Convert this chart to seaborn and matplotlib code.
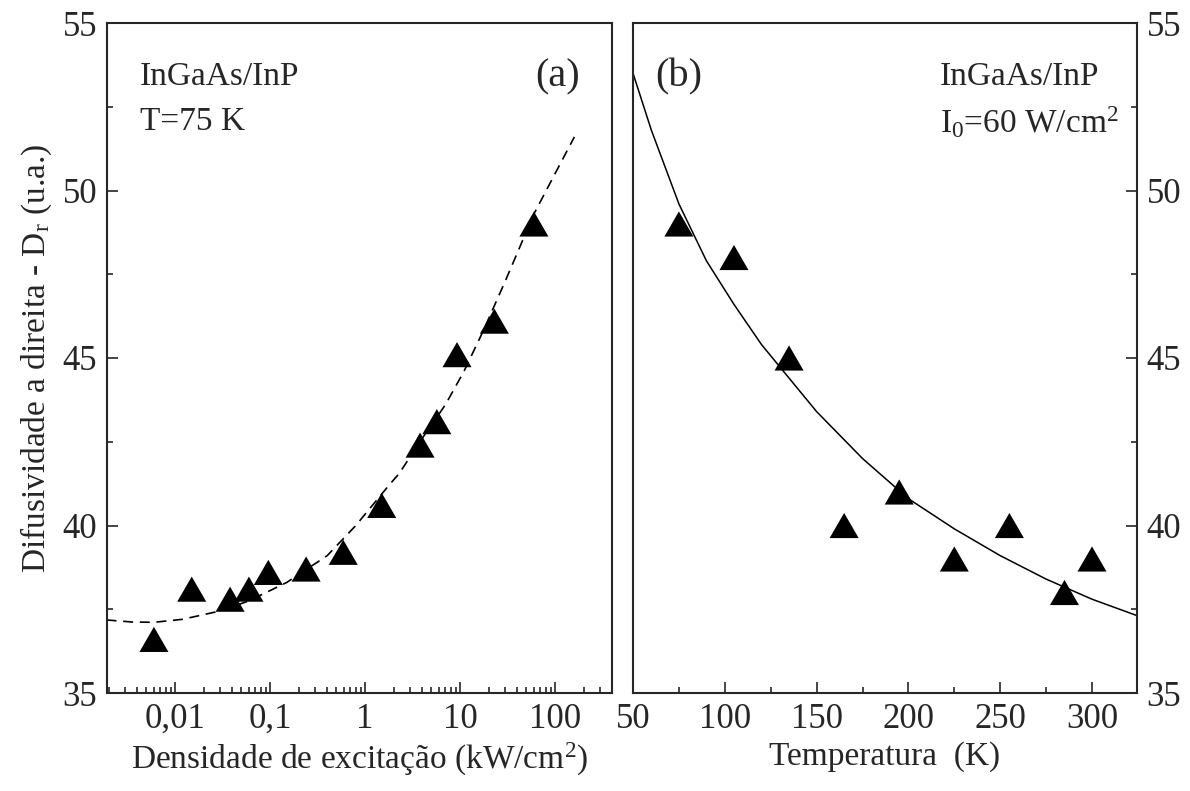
import numpy as np
import pandas as pd
import matplotlib
matplotlib.use("Agg")
import matplotlib.pyplot as plt
import seaborn as sns
from matplotlib.ticker import FixedLocator, FuncFormatter, MultipleLocator, NullFormatter

# (a) Dr vs excitation density (kW/cm2), T = 75 K
dens = [0.006, 0.015, 0.038, 0.060, 0.096, 0.24, 0.59, 1.5, 3.8, 5.7, 9.3, 23, 60]
dr_dens = [36.6, 38.1, 37.8, 38.1, 38.6, 38.7, 39.2, 40.6, 42.4, 43.1, 45.1, 46.1, 49.0]
# dashed fit curve
fit_dens = [0.0019, 0.0035, 0.006, 0.012, 0.03, 0.06, 0.15, 0.4, 0.8, 1.75, 2.3,
            4, 7, 11, 17.5, 30, 60, 100, 160]
fit_dr_dens = [37.18, 37.12, 37.11, 37.2, 37.45, 37.75, 38.3, 39.1, 40.0, 41.17, 41.56,
               42.6, 43.6, 44.6, 45.8, 47.3, 49.3, 50.5, 51.6]

# (b) Dr vs temperature (K), I0 = 60 W/cm2
temp = [75, 105, 135, 165, 195, 225, 255, 285, 300]
dr_temp = [49, 48, 45, 40, 41, 39, 40, 38, 39]
fit_temp = [50, 60, 75, 90, 105, 120, 135, 150, 175, 200, 225, 250, 275, 300, 325]
fit_dr_temp = [53.5, 51.8, 49.6, 47.9, 46.6, 45.4, 44.4, 43.4, 42.0, 40.8, 39.9,
               39.1, 38.4, 37.8, 37.3]

df_a = pd.DataFrame({"x": dens, "y": dr_dens})
df_b = pd.DataFrame({"x": temp, "y": dr_temp})

sns.set_style("ticks")
plt.rcParams["font.family"] = ["Liberation Serif", "DejaVu Serif"]
plt.rcParams["mathtext.fontset"] = "custom"
plt.rcParams["mathtext.rm"] = "Liberation Serif"
plt.rcParams["mathtext.it"] = "Liberation Serif:italic"
plt.rcParams["axes.linewidth"] = 1.5

fig = plt.figure(figsize=(11.9, 7.91), dpi=100)
ax1 = fig.add_axes([107 / 1190, 1 - 693 / 791, 505 / 1190, 670 / 791])
ax2 = fig.add_axes([633 / 1190, 1 - 693 / 791, 504 / 1190, 670 / 791])

tri = [(-1, -0.866), (1, -0.866), (0, 0.866)]
tick_fs = 25
lab_fs = 24

# panel (a)
ax1.set_xscale("log")
sns.lineplot(x=fit_dens, y=fit_dr_dens, ax=ax1, color="black", lw=1.2,
             linestyle=(0, (6, 4)), sort=False, estimator=None)
sns.scatterplot(data=df_a, x="x", y="y", ax=ax1, marker=tri, s=29 ** 2 * 0.52,
                color="black", edgecolor="none", zorder=3)
ax1.set_xlim(10 ** -2.716, 10 ** 2.6)
ax1.set_ylim(35, 55)
ax1.xaxis.set_major_locator(FixedLocator([0.01, 0.1, 1, 10, 100]))
ax1.xaxis.set_major_formatter(FuncFormatter(lambda v, p: ("%g" % v).replace(".", ",")))
minors = [m * 10.0 ** e for e in range(-3, 3) for m in range(2, 10)]
ax1.xaxis.set_minor_locator(FixedLocator(minors))
ax1.xaxis.set_minor_formatter(NullFormatter())
ax1.yaxis.set_major_locator(MultipleLocator(5))
ax1.yaxis.set_minor_locator(MultipleLocator(2.5))
ax1.tick_params(which="both", direction="in", top=False, right=False,
                labelsize=tick_fs, width=1.2, pad=7)
ax1.tick_params(which="major", length=8)
ax1.tick_params(which="minor", length=4.5)
ax1.set_xlabel("Densidade de excitação (kW/cm$^2$)", fontsize=lab_fs, labelpad=4)
ax1.set_ylabel("Difusividade a direita - D$_\\mathrm{r}$ (u.a.)", fontsize=lab_fs, labelpad=6)
ax1.text(0.065, 0.92, "InGaAs/InP", transform=ax1.transAxes, fontsize=24, va="center")
ax1.text(0.065, 0.852, "T=75 K", transform=ax1.transAxes, fontsize=24, va="center")
ax1.text(0.937, 0.92, "(a)", transform=ax1.transAxes, fontsize=29, va="center", ha="right")

# panel (b)
sns.lineplot(x=fit_temp, y=fit_dr_temp, ax=ax2, color="black", lw=1.1,
             sort=False, estimator=None)
sns.scatterplot(data=df_b, x="x", y="y", ax=ax2, marker=tri, s=29 ** 2 * 0.52,
                color="black", edgecolor="none", zorder=3)
ax2.set_xlim(50, 324.5)
ax2.set_ylim(35, 55)
ax2.xaxis.set_major_locator(MultipleLocator(50))
ax2.xaxis.set_minor_locator(MultipleLocator(25))
ax2.yaxis.set_major_locator(MultipleLocator(5))
ax2.yaxis.set_minor_locator(MultipleLocator(2.5))
ax2.yaxis.tick_right()
ax2.tick_params(which="both", direction="in", top=False, left=False, right=True,
                labelleft=False, labelright=True, labelsize=tick_fs, width=1.2, pad=7)
ax2.tick_params(which="major", length=8)
ax2.tick_params(which="minor", length=4.5)
ax2.set_xlabel("Temperatura  (K)", fontsize=lab_fs, labelpad=4)
ax2.set_ylabel("")
ax2.text(0.044, 0.92, "(b)", transform=ax2.transAxes, fontsize=29, va="center")
ax2.text(0.609, 0.92, "InGaAs/InP", transform=ax2.transAxes, fontsize=24, va="center")
ax2.text(0.609, 0.852, "I$_0$=60 W/cm$^2$", transform=ax2.transAxes, fontsize=24, va="center")

fig.savefig("out.png", dpi=100)
